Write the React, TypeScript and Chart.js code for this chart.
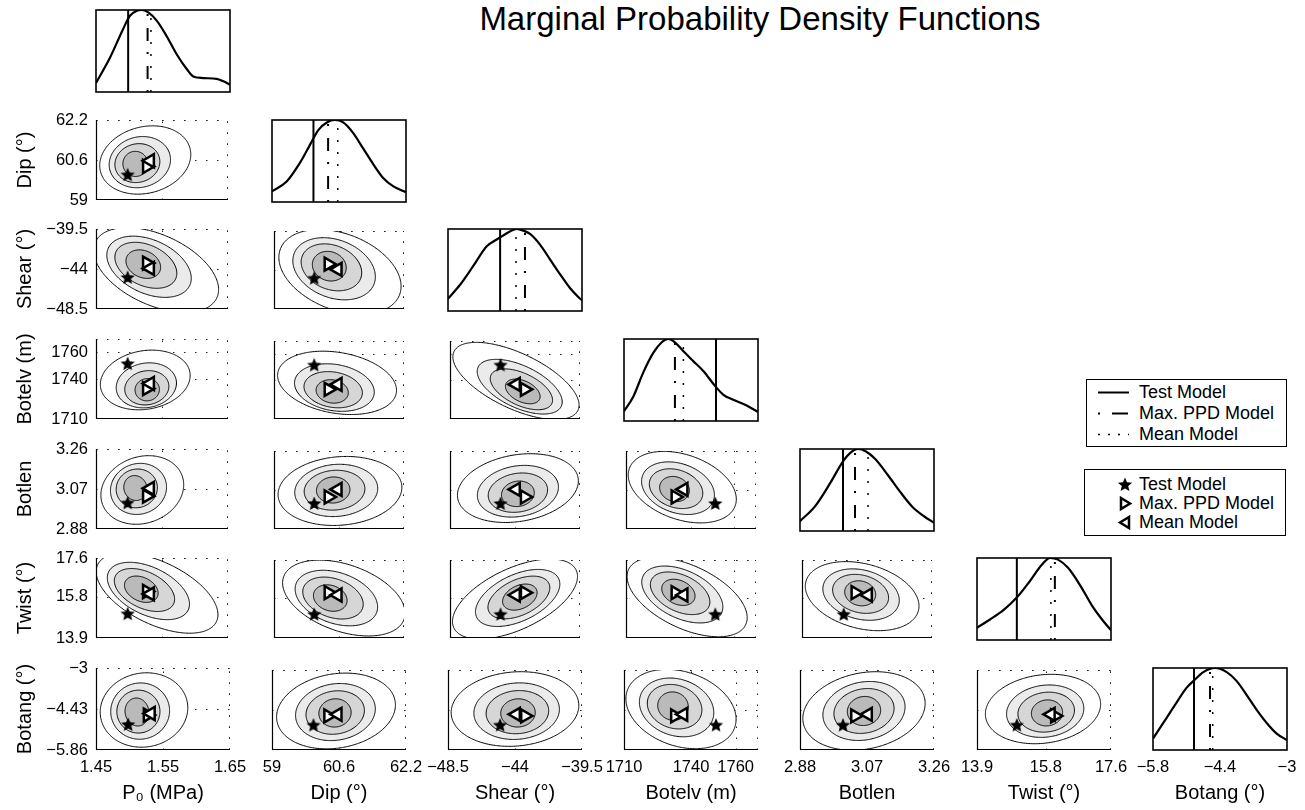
import React, { useEffect, useRef } from 'react';
import { Chart, registerables } from 'chart.js';

Chart.register(...registerables);

const FONT = "'Liberation Sans', Arial, Helvetica, sans-serif";

// ---------------- data ----------------
const paramLabels = ['P\u2080 (MPa)', 'Dip (\u00b0)', 'Shear (\u00b0)', 'Botelv (m)', 'Botlen', 'Twist (\u00b0)', 'Botang (\u00b0)'];
const axisMin = [1.45, 59, -48.5, 1710, 2.88, 13.9, -5.86];
const axisMax = [1.65, 62.2, -39.5, 1770, 3.26, 17.6, -3];
const tickValues = [
  [1.45, 1.55, 1.65],
  [59, 60.6, 62.2],
  [-48.5, -44, -39.5],
  [1710, 1740, 1760],
  [2.88, 3.07, 3.26],
  [13.9, 15.8, 17.6],
  [-5.86, -4.43, -3],
];
const yTickLabels = [
  ['1.45', '1.55', '1.65'],
  ['59', '60.6', '62.2'],
  ['\u221248.5', '\u221244', '\u221239.5'],
  ['1710', '1740', '1760'],
  ['2.88', '3.07', '3.26'],
  ['13.9', '15.8', '17.6'],
  ['\u22125.86', '\u22124.43', '\u22123'],
];
const xTickLabels = [
  ['1.45', '1.55', '1.65'],
  ['59', '60.6', '62.2'],
  ['\u221248.5', '\u221244', '\u221239.5'],
  ['1710', '1740', '1760'],
  ['2.88', '3.07', '3.26'],
  ['13.9', '15.8', '17.6'],
  ['\u22125.8', '\u22124.4', '\u22123'],
];

const testModel = [1.498, 59.99, -45.0, 1751.2, 3.002, 15.0, -4.985];
const maxPpdModel = [1.527, 60.34, -43.33, 1732.8, 3.036, 16.05, -4.643];
const meanModel = [1.532, 60.57, -43.93, 1736.6, 3.073, 15.94, -4.586];

const pdfX = [
  [1.45, 1.471, 1.49, 1.5007, 1.5107, 1.518, 1.528, 1.5406, 1.5555, 1.5704, 1.5854, 1.5952, 1.61, 1.63, 1.64, 1.65],
  [59, 59.35, 59.67, 59.91, 60.11, 60.31, 60.5, 60.7, 60.94, 61.18, 61.42, 61.66, 61.9, 62.2],
  [-48.5, -47.69, -46.8, -45.9, -45.34, -44.89, -44.34, -43.89, -43.44, -42.99, -42.32, -41.65, -40.98, -40.31, -39.75, -39.5],
  [1710, 1714.2, 1718.6, 1723.1, 1726.9, 1729.8, 1732.8, 1736.6, 1741, 1745.5, 1750.7, 1754.5, 1758.9, 1764.9, 1770],
  [2.88, 2.9225, 2.965, 3.002, 3.0218, 3.0445, 3.0672, 3.0927, 3.1296, 3.1636, 3.1976, 3.2316, 3.26],
  [13.9, 14.259, 14.646, 15.004, 15.363, 15.695, 15.916, 16.137, 16.413, 16.744, 17.075, 17.352, 17.6],
  [-5.86, -5.64, -5.39, -5.141, -4.964, -4.786, -4.537, -4.287, -4.073, -3.86, -3.647, -3.433, -3.22, -3.0],
];
const pdfY = [
  [0.11, 0.42, 0.76, 0.93, 0.99, 1.0, 0.97, 0.87, 0.68, 0.46, 0.28, 0.19, 0.17, 0.16, 0.13, 0.09],
  [0.13, 0.25, 0.48, 0.7, 0.88, 0.97, 1.0, 0.97, 0.84, 0.65, 0.46, 0.29, 0.19, 0.12],
  [0.15, 0.32, 0.55, 0.79, 0.86, 0.91, 0.97, 1.0, 0.98, 0.94, 0.81, 0.63, 0.45, 0.28, 0.17, 0.13],
  [0.12, 0.3, 0.59, 0.83, 0.96, 1.0, 0.96, 0.85, 0.73, 0.61, 0.43, 0.32, 0.26, 0.19, 0.11],
  [0.12, 0.3, 0.58, 0.85, 0.95, 1.0, 0.97, 0.88, 0.68, 0.48, 0.3, 0.18, 0.1],
  [0.15, 0.25, 0.37, 0.52, 0.72, 0.92, 1.0, 0.98, 0.88, 0.67, 0.42, 0.25, 0.12],
  [0.14, 0.33, 0.55, 0.76, 0.86, 0.95, 1.0, 0.95, 0.84, 0.67, 0.49, 0.33, 0.2, 0.12],
];

// Contour shapes, in units of the panel box (134 across, 82 up):
// [col, row, centreU, centreV, radiusU, radiusV, tiltDeg, modeU, modeV]
const contourShapes = [
  [0, 1, 50, 41, 47, 34, 15, 40, 37],
  [0, 2, 61, 40, 68, 36, -25, 48, 46],
  [1, 2, 68, 39, 66, 40, -22, 57, 45],
  [0, 3, 50, 40, 46, 30, 10, 52, 30],
  [1, 3, 65, 38, 62, 32, -10, 60, 29],
  [2, 3, 68, 40, 71, 29, -26, 75, 29],
  [0, 4, 47, 40, 43, 34, 20, 40, 42],
  [1, 4, 68, 40, 64, 36, 5, 61, 41],
  [2, 4, 70, 43, 63, 35, 10, 70, 37],
  [3, 4, 58, 44, 58, 34, -20, 50, 42],
  [0, 5, 62, 46, 67, 32, -26, 46, 50],
  [1, 5, 72, 42, 66, 35, -20, 58, 42],
  [2, 5, 67, 41, 70, 32, 26, 72, 43],
  [3, 5, 63, 43, 67, 33, -26, 54, 48],
  [4, 5, 62, 44, 60, 34, -15, 60, 47],
  [0, 6, 48, 40, 44, 37, 10, 41, 38],
  [1, 6, 64, 40, 60, 38, 10, 63, 38],
  [2, 6, 67, 42, 64, 38, 5, 70, 38],
  [3, 6, 57, 42, 57, 38, -20, 49, 45],
  [4, 6, 64, 40, 62, 39, 12, 64, 40],
  [5, 6, 66, 42, 58, 35, 8, 70, 38],
];
const contourFills = ['#ffffff', '#ebebeb', '#d6d6d6', '#bababa'];
const contourScaleU = [1, 0.67, 0.49, 0.27];
const contourScaleV = [1, 0.76, 0.58, 0.38];
const contourModeShift = [0, 0.55, 0.8, 1];
const BOX_U = 134;
const BOX_V = 82;

// ---------------- layout ----------------
const COL_LEFT = [96, 272, 448, 624, 800, 977, 1153];
const ROW_TOP = [10, 120, 229, 339, 449, 558, 668];
const PW = 134;
const PH = 82;

type Panel = { r: number; c: number; ml: number; mr: number; mt: number; mb: number; showX: boolean; showY: boolean };

const panels: Panel[] = [];
for (let r = 0; r < 7; r++) {
  for (let c = 0; c <= r; c++) {
    const showY = c === 0 && r > 0;
    const showX = r === 6;
    panels.push({
      r,
      c,
      showX,
      showY,
      ml: showY ? 96 : showX ? 34 : 8,
      mr: showX ? 34 : 8,
      mt: showY ? 14 : 8,
      mb: showX ? 60 : 8,
    });
  }
}

function makeStar(size: number): HTMLCanvasElement {
  const cv = document.createElement('canvas');
  cv.width = size;
  cv.height = size;
  const g = cv.getContext('2d')!;
  const R = size / 2 - 0.5;
  const rr = R * 0.45;
  const cx = size / 2;
  const cy = size / 2;
  g.beginPath();
  for (let k = 0; k < 10; k++) {
    const ang = -Math.PI / 2 + (k * Math.PI) / 5;
    const rad = k % 2 === 0 ? R : rr;
    const x = cx + rad * Math.cos(ang);
    const y = cy + rad * Math.sin(ang);
    if (k === 0) g.moveTo(x, y);
    else g.lineTo(x, y);
  }
  g.closePath();
  g.fillStyle = '#000';
  g.fill();
  return cv;
}

function contourPoints(c: number, r: number, shape: number[], level: number) {
  const [, , cu, cv, ru, rv, tilt, mu, mv] = shape;
  const s = contourModeShift[level];
  const ccu = cu + (mu - cu) * s;
  const ccv = cv + (mv - cv) * s;
  const a = ru * contourScaleU[level];
  const b = rv * contourScaleV[level];
  const th = (tilt * Math.PI) / 180;
  const pts: { x: number; y: number }[] = [];
  const n = 72;
  for (let k = 0; k <= n; k++) {
    const t = (2 * Math.PI * k) / n;
    const u = ccu + a * Math.cos(t) * Math.cos(th) - b * Math.sin(t) * Math.sin(th);
    const v = ccv + a * Math.cos(t) * Math.sin(th) + b * Math.sin(t) * Math.cos(th);
    pts.push({
      x: axisMin[c] + (u / BOX_U) * (axisMax[c] - axisMin[c]),
      y: axisMin[r] + (v / BOX_V) * (axisMax[r] - axisMin[r]),
    });
  }
  return pts;
}

function createPanelChart(canvas: HTMLCanvasElement, p: Panel, star: HTMLCanvasElement) {
  const { r, c } = p;
  const isPdf = r === c;
  const datasets: any[] = [];

  if (isPdf) {
    datasets.push({
      type: 'line',
      data: pdfX[c].map((x, k) => ({ x, y: pdfY[c][k] })),
      borderColor: '#000',
      borderWidth: 2.2,
      pointRadius: 0,
      cubicInterpolationMode: 'monotone',
      fill: false,
      order: 5,
    });
    const vline = (v: number, dash: number[], w: number, order: number) => ({
      type: 'line',
      data: [
        { x: v, y: 0 },
        { x: v, y: 1 },
      ],
      borderColor: '#000',
      borderWidth: w,
      borderDash: dash,
      pointRadius: 0,
      fill: false,
      tension: 0,
      order,
    });
    datasets.push(vline(testModel[c], [], 2, 4));
    datasets.push(vline(maxPpdModel[c], [2, 11, 13, 12], 2, 3));
    datasets.push(vline(meanModel[c], [2, 10], 1.5, 2));
  } else {
    const shape = contourShapes.find((s) => s[0] === c && s[1] === r)!;
    for (let L = 0; L < 4; L++) {
      datasets.push({
        type: 'line',
        data: contourPoints(c, r, shape, L),
        borderColor: '#000',
        borderWidth: 1,
        backgroundColor: contourFills[L],
        fill: 'shape',
        pointRadius: 0,
        tension: 0.1,
        order: 20 - L,
      });
    }
    datasets.push({
      type: 'scatter',
      data: [{ x: testModel[c], y: testModel[r] }],
      pointStyle: star,
      pointRadius: 8,
      order: 3,
      clip: false,
    });
    datasets.push({
      type: 'scatter',
      data: [{ x: maxPpdModel[c], y: maxPpdModel[r] }],
      pointStyle: 'triangle',
      pointRotation: 90,
      pointRadius: 7.5,
      pointBorderColor: '#000',
      pointBackgroundColor: '#fff',
      pointBorderWidth: 2.5,
      order: 2,
      clip: false,
    });
    datasets.push({
      type: 'scatter',
      data: [{ x: meanModel[c], y: meanModel[r] }],
      pointStyle: 'triangle',
      pointRotation: -90,
      pointRadius: 7.5,
      pointBorderColor: '#000',
      pointBackgroundColor: '#fff',
      pointBorderWidth: 2.5,
      order: 1,
      clip: false,
    });
  }

  const decor = {
    id: 'panelDecor',
    beforeDatasetsDraw(chart: any) {
      if (isPdf) return;
      const { ctx, chartArea: a, scales } = chart;
      const xs = scales.x;
      const ys = scales.y;
      ctx.save();
      ctx.strokeStyle = '#222';
      ctx.lineWidth = 1;
      ctx.setLineDash([1.5, 9.5]);
      const xv = tickValues[c].slice(1);
      const yv = tickValues[r].slice(1);
      for (const v of xv) {
        const px = Math.min(Math.round(xs.getPixelForValue(v)), Math.round(a.right) - 1) + 0.5;
        ctx.beginPath();
        ctx.moveTo(px, a.bottom);
        ctx.lineTo(px, a.top);
        ctx.stroke();
      }
      for (const v of yv) {
        const py = Math.max(Math.round(ys.getPixelForValue(v)), Math.round(a.top)) + 0.5;
        ctx.beginPath();
        ctx.moveTo(a.left, py);
        ctx.lineTo(a.right, py);
        ctx.stroke();
      }
      // upper and right limits of the axes
      ctx.beginPath();
      ctx.moveTo(a.left, Math.round(a.top) + 0.5);
      ctx.lineTo(a.right, Math.round(a.top) + 0.5);
      ctx.moveTo(Math.round(a.right) - 0.5, a.bottom);
      ctx.lineTo(Math.round(a.right) - 0.5, a.top);
      ctx.stroke();
      ctx.restore();
    },
    afterDatasetsDraw(chart: any) {
      const { ctx, chartArea: a } = chart;
      ctx.save();
      ctx.setLineDash([]);
      ctx.strokeStyle = '#000';
      if (isPdf) {
        ctx.lineWidth = 1.6;
        ctx.strokeRect(a.left, a.top, a.right - a.left, a.bottom - a.top);
      } else {
        ctx.lineWidth = 1.2;
        ctx.beginPath();
        ctx.moveTo(a.left + 0.5, a.top);
        ctx.lineTo(a.left + 0.5, a.bottom - 0.5);
        ctx.lineTo(a.right, a.bottom - 0.5);
        ctx.stroke();
      }
      ctx.restore();
    },
  };

  const xScale: any = {
    type: 'linear',
    min: axisMin[c],
    max: axisMax[c],
    display: p.showX,
    afterBuildTicks: (s: any) => {
      s.ticks = tickValues[c].map((v) => ({ value: v }));
    },
    ticks: {
      autoSkip: false,
      maxRotation: 0,
      minRotation: 0,
      padding: 8,
      color: '#000',
      font: { size: 16.5, family: FONT },
      callback: (_v: any, i: number) => xTickLabels[c][i],
    },
    grid: { display: false, drawTicks: false },
    border: { display: false },
    title: {
      display: true,
      text: paramLabels[c],
      color: '#000',
      font: { size: 20, family: FONT },
      padding: { top: 0, bottom: 5 },
    },
  };
  if (p.showX) {
    xScale.afterFit = (s: any) => {
      s.height = p.mb;
      s.paddingLeft = 0;
      s.paddingRight = 0;
    };
  }

  const yScale: any = {
    type: 'linear',
    min: isPdf ? 0 : axisMin[r],
    max: isPdf ? 1 : axisMax[r],
    display: p.showY,
    afterBuildTicks: (s: any) => {
      if (!isPdf) s.ticks = tickValues[r].map((v) => ({ value: v }));
    },
    ticks: {
      autoSkip: false,
      padding: 8,
      color: '#000',
      font: { size: 16.5, family: FONT },
      callback: (_v: any, i: number) => yTickLabels[r][i],
    },
    grid: { display: false, drawTicks: false },
    border: { display: false },
    title: {
      display: true,
      text: paramLabels[r],
      color: '#000',
      font: { size: 20, family: FONT },
      padding: { top: 13, bottom: 0 },
    },
  };
  if (p.showY) {
    yScale.afterFit = (s: any) => {
      s.width = p.ml;
      s.paddingTop = 0;
      s.paddingBottom = 0;
    };
  }

  return new Chart(canvas, {
    type: 'scatter',
    data: { datasets },
    options: {
      responsive: false,
      animation: false,
      devicePixelRatio: 1,
      events: [],
      layout: {
        padding: {
          left: p.showY ? 0 : p.ml,
          right: p.mr,
          top: p.mt,
          bottom: p.showX ? 0 : p.mb,
        },
      },
      plugins: {
        legend: { display: false },
        tooltip: { enabled: false },
      },
      scales: { x: xScale, y: yScale },
    } as any,
    plugins: [decor],
  });
}

const starPath = (cx: number, cy: number, R: number) => {
  const rr = R * 0.45;
  const pts: string[] = [];
  for (let k = 0; k < 10; k++) {
    const ang = -Math.PI / 2 + (k * Math.PI) / 5;
    const rad = k % 2 === 0 ? R : rr;
    pts.push(`${(cx + rad * Math.cos(ang)).toFixed(2)},${(cy + rad * Math.sin(ang)).toFixed(2)}`);
  }
  return pts.join(' ');
};

const legendLineRows = [
  { label: 'Test Model', dash: '', width: 2 },
  { label: 'Max. PPD Model', dash: '2 12 16 100', width: 2 },
  { label: 'Mean Model', dash: '2 8', width: 1.5 },
];
const legendMarkerRows = ['Test Model', 'Max. PPD Model', 'Mean Model'];

export default function App() {
  const refs = useRef<(HTMLCanvasElement | null)[]>([]);

  useEffect(() => {
    Chart.defaults.font.family = FONT;
    Chart.defaults.color = '#000';
    const star = makeStar(16);
    const charts = panels.map((p, i) => createPanelChart(refs.current[i] as HTMLCanvasElement, p, star));
    return () => {
      charts.forEach((ch) => ch.destroy());
    };
  }, []);

  return (
    <div
      style={{
        position: 'absolute',
        left: 0,
        top: 0,
        width: 1305,
        height: 810,
        background: '#fff',
        fontFamily: FONT,
        color: '#000',
        overflow: 'hidden',
      }}
    >
      <div
        style={{
          position: 'absolute',
          left: 360,
          width: 800,
          top: 0,
          textAlign: 'center',
          fontSize: 33,
          whiteSpace: 'nowrap',
        }}
      >
        Marginal Probability Density Functions
      </div>

      {panels.map((p, i) => {
        const w = PW + p.ml + p.mr;
        const h = PH + p.mt + p.mb;
        return (
          <canvas
            key={`${p.r}-${p.c}`}
            ref={(el) => {
              refs.current[i] = el;
            }}
            width={w}
            height={h}
            style={{
              position: 'absolute',
              left: COL_LEFT[p.c] - p.ml,
              top: ROW_TOP[p.r] - p.mt,
              width: w,
              height: h,
            }}
          />
        );
      })}

      <div
        style={{
          position: 'absolute',
          left: 1086,
          top: 379,
          width: 201,
          height: 68,
          border: '1px solid #000',
          boxSizing: 'border-box',
          background: '#fff',
        }}
      >
        {legendLineRows.map((row, k) => (
          <div key={row.label} style={{ position: 'absolute', left: 0, top: 2 + k * 21, height: 21, width: '100%' }}>
            <svg width={34} height={21} style={{ position: 'absolute', left: 10, top: 0 }}>
              <line
                x1={1}
                y1={10.5}
                x2={32}
                y2={10.5}
                stroke="#000"
                strokeWidth={row.width}
                strokeDasharray={row.dash || undefined}
              />
            </svg>
            <span style={{ position: 'absolute', left: 52, top: 0, fontSize: 18, lineHeight: '21px' }}>{row.label}</span>
          </div>
        ))}
      </div>

      <div
        style={{
          position: 'absolute',
          left: 1084,
          top: 469,
          width: 202,
          height: 67,
          border: '1px solid #000',
          boxSizing: 'border-box',
          background: '#fff',
        }}
      >
        {legendMarkerRows.map((label, k) => (
          <div key={label} style={{ position: 'absolute', left: 0, top: 5 + k * 19, height: 19, width: '100%' }}>
            <svg width={20} height={19} style={{ position: 'absolute', left: 30, top: 0 }}>
              {k === 0 && <polygon points={starPath(10, 10, 7.5)} fill="#000" />}
              {k === 1 && <polygon points="6,4 15,9.5 6,15" fill="#fff" stroke="#000" strokeWidth={2.5} />}
              {k === 2 && <polygon points="14,4 5,9.5 14,15" fill="#fff" stroke="#000" strokeWidth={2.5} />}
            </svg>
            <span style={{ position: 'absolute', left: 54, top: 0, fontSize: 18, lineHeight: '19px' }}>{label}</span>
          </div>
        ))}
      </div>
    </div>
  );
}
